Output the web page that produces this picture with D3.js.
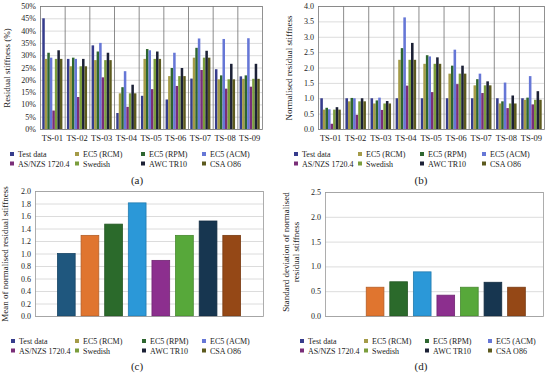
<!DOCTYPE html>
<html>
  <head>
    <meta charset="utf-8">
    <style>
      body { margin: 0; background: #fff; }
      text { font-family: "Liberation Serif", "Times New Roman", Tinos, "DejaVu Serif", serif; fill: #222; }
    </style>
    <script src="https://cdnjs.cloudflare.com/ajax/libs/d3/7.8.5/d3.min.js"></script>
  </head>
  <body>
    <script>
      // categories and series
      var tests = ["TS-01", "TS-02", "TS-03", "TS-04", "TS-05", "TS-06", "TS-07", "TS-08", "TS-09"];
      var methods = ["Test data", "EC5 (RCM)", "EC5 (RPM)", "EC5 (ACM)", "AS/NZS 1720.4", "Swedish", "AWC TR10", "CSA O86"];

      // (a) residual stiffness (%), one array per method, across tests
      var resTest    = [45, 28.5, 34, 6.5, 13.5, 12, 20.5, 24.3, 21.4];
      var resRCM     = [28.5, 25.5, 28, 14.5, 28.5, 21.5, 29, 20.2, 20.4];
      var resRPM     = [31, 29, 31.5, 17, 32.5, 24.8, 33, 21.8, 21.8];
      var resACM     = [29, 28.5, 35, 23.5, 32, 31, 36.8, 36.6, 36.9];
      var resASNZS   = [7.5, 13, 21, 9, 16.2, 17.5, 24, 16.4, 17.2];
      var resSwedish = [28.5, 25.5, 28, 14.5, 28.5, 21.5, 29, 20.2, 20.4];
      var resAWC     = [32, 28.5, 31, 18, 31.5, 24.8, 31.8, 26.5, 26.5];
      var resCSA     = [28.5, 25.5, 28, 14.5, 28.5, 21.5, 29, 20.2, 20.4];

      // (b) normalised residual stiffness
      var nrmTest    = [1, 1, 1, 1, 1, 1, 1, 1, 1];
      var nrmRCM     = [0.63, 0.9, 0.83, 2.25, 2.12, 1.8, 1.42, 0.83, 0.95];
      var nrmRPM     = [0.69, 1.01, 0.93, 2.63, 2.4, 2.06, 1.62, 0.9, 1.02];
      var nrmACM     = [0.64, 1.0, 1.02, 3.63, 2.36, 2.58, 1.8, 1.51, 1.72];
      var nrmASNZS   = [0.17, 0.46, 0.62, 1.41, 1.2, 1.46, 1.17, 0.68, 0.8];
      var nrmSwedish = [0.63, 0.9, 0.83, 2.25, 2.12, 1.8, 1.42, 0.83, 0.95];
      var nrmAWC     = [0.71, 1.0, 0.91, 2.8, 2.33, 2.06, 1.55, 1.09, 1.23];
      var nrmCSA     = [0.63, 0.9, 0.83, 2.25, 2.12, 1.8, 1.42, 0.83, 0.95];

      // (c) mean and (d) standard deviation of normalised residual stiffness
      var meanValues = [1.0, 1.29, 1.47, 1.81, 0.89, 1.29, 1.52, 1.29];
      var stdValues  = [0, 0.58, 0.69, 0.89, 0.42, 0.58, 0.68, 0.58];

      var resSeries = [resTest, resRCM, resRPM, resACM, resASNZS, resSwedish, resAWC, resCSA];
      var nrmSeries = [nrmTest, nrmRCM, nrmRPM, nrmACM, nrmASNZS, nrmSwedish, nrmAWC, nrmCSA];

      var groupColors = ["#363c8c", "#a49b48", "#2e6630", "#6677d6", "#7a2e78", "#7b9d3c", "#1c2136", "#5c5a1e"];
      var singleColors = ["#1f577e", "#e0752f", "#2b6a2b", "#2b98d8", "#8c2f8e", "#57a83a", "#173650", "#954816"];

      var svg = d3.select("body").append("svg").attr("width", 550).attr("height", 375);

      function yTitle(lines, x, y) {
        var t = svg.append("text")
                   .attr("transform", "translate(" + x + "," + y + ") rotate(-90)")
                   .attr("text-anchor", "middle")
                   .style("font-size", "9px");
        lines.forEach(function(l, i) {
          t.append("tspan").attr("x", 0).attr("dy", i == 0 ? 0 : 10).text(l);
        });
      }

      function legend(cols, y1) {
        methods.forEach(function(m, i) {
          var cx = cols[i % 4], cy = y1 + Math.floor(i / 4) * 9.5;
          svg.append("rect").attr("x", cx - 2).attr("y", cy - 2).attr("width", 4).attr("height", 4)
             .attr("fill", groupColors[i]);
          svg.append("text").attr("x", cx + 6).attr("y", cy + 3)
             .style("font-size", "8px").text(m);
        });
      }

      function panelLabel(txt, x, y) {
        svg.append("text").attr("x", x).attr("y", y).attr("text-anchor", "middle")
           .style("font-size", "11px").text(txt);
      }

      function yGrid(y, left, right, ticks, fmt) {
        var g = svg.append("g");
        g.selectAll("line").data(ticks).enter().append("line")
         .attr("x1", left).attr("x2", right)
         .attr("y1", function(d) { return y(d) + 0.5 }).attr("y2", function(d) { return y(d) + 0.5 })
         .attr("stroke", "#dcdcdc");
        var ax = svg.append("g").attr("transform", "translate(" + (left - 3) + ",0)")
                    .call(d3.axisLeft(y).tickValues(ticks).tickSize(0).tickPadding(1).tickFormat(fmt))
                    .attr("font-family", null);
        ax.select(".domain").remove();
        ax.selectAll("text").style("font-size", "8px").attr("fill", "#222");
      }

      function groupedPanel(series, left, right, top, bottom, maxV, ticks, fmt) {
        var x0 = d3.scaleBand().domain(tests).range([left, right]);
        var x1 = d3.scaleBand().domain(methods).range([0, x0.bandwidth()]).paddingOuter(0.9);
        var y = d3.scaleLinear().domain([0, maxV]).range([bottom, top]);

        yGrid(y, left, right, ticks, fmt);

        var groups = svg.append("g").selectAll("g").data(tests).enter().append("g")
                        .attr("transform", function(d) { return "translate(" + x0(d) + ",0)" });
        groups.selectAll("rect")
              .data(function(d, ti) { return methods.map(function(m, mi) { return { m: m, i: mi, v: series[mi][ti] } }) })
              .enter().append("rect")
              .attr("x", function(d) { return x1(d.m) })
              .attr("width", x1.bandwidth())
              .attr("y", function(d) { return y(d.v) })
              .attr("height", function(d) { return bottom - y(d.v) })
              .attr("fill", function(d) { return groupColors[d.i] });

        // category separators
        svg.append("g").selectAll("line").data(tests.slice(1)).enter().append("line")
           .attr("x1", function(d) { return x0(d) + 0.5 }).attr("x2", function(d) { return x0(d) + 0.5 })
           .attr("y1", top).attr("y2", bottom).attr("stroke", "#6e6e6e").attr("stroke-width", 0.8);
        svg.append("rect").attr("x", left + 0.5).attr("y", top + 0.5)
           .attr("width", right - left).attr("height", bottom - top)
           .attr("fill", "none").attr("stroke", "#777").attr("stroke-width", 0.8);

        svg.append("g").selectAll("text").data(tests).enter().append("text")
           .attr("x", function(d) { return x0(d) + x0.bandwidth() / 2 })
           .attr("y", bottom + 12).attr("text-anchor", "middle")
           .style("font-size", "8.5px").text(function(d) { return d });
      }

      function singlePanel(values, left, right, top, bottom, maxV, ticks, po) {
        var x = d3.scaleBand().domain(methods).range([left, right]).paddingInner(0.25).paddingOuter(po);
        var y = d3.scaleLinear().domain([0, maxV]).range([bottom, top]);

        yGrid(y, left, right, ticks, d3.format(".1f"));

        svg.append("g").selectAll("rect").data(methods).enter().append("rect")
           .attr("x", function(d) { return x(d) })
           .attr("width", x.bandwidth())
           .attr("y", function(d, i) { return y(values[i]) })
           .attr("height", function(d, i) { return bottom - y(values[i]) })
           .attr("fill", function(d, i) { return singleColors[i] })
           .attr("stroke", function(d, i) { return values[i] > 0 ? d3.color(singleColors[i]).darker(0.6) : "none" })
           .attr("stroke-width", 0.8);

        svg.append("rect").attr("x", left + 0.5).attr("y", top + 0.5)
           .attr("width", right - left).attr("height", bottom - top)
           .attr("fill", "none").attr("stroke", "#999").attr("stroke-width", 0.8);
      }

      // (a)
      groupedPanel(resSeries, 40, 262, 6, 129, 50, d3.range(0, 51, 5), function(d) { return d + "%" });
      yTitle(["Residual stiffness (%)"], 10, 68);
      legend([12, 77, 143, 204], 154);
      panelLabel("(a)", 137, 184);

      // (b)
      groupedPanel(nrmSeries, 318, 544, 6, 129, 4, d3.range(0, 4.01, 0.5), d3.format(".1f"));
      yTitle(["Normalised residual stiffness"], 292, 68);
      legend([296, 360, 422, 484], 154);
      panelLabel("(b)", 421, 184);

      // (c)
      singlePanel(meanValues, 35, 263, 191, 316, 2, d3.range(0, 2.01, 0.2), 0.95);
      yTitle(["Mean of normalised residual stiffness"], 8, 254);
      legend([13, 77, 144, 204], 341);
      panelLabel("(c)", 137, 370);

      // (d)
      singlePanel(stdValues, 325, 543, 192, 316, 2.5, d3.range(0, 2.51, 0.5), 0.75);
      yTitle(["Standard deviation of normalised", "residual stiffness"], 289, 252);
      legend([302, 366, 427, 490], 341);
      panelLabel("(d)", 421, 370);
    </script>
  </body>
</html>
